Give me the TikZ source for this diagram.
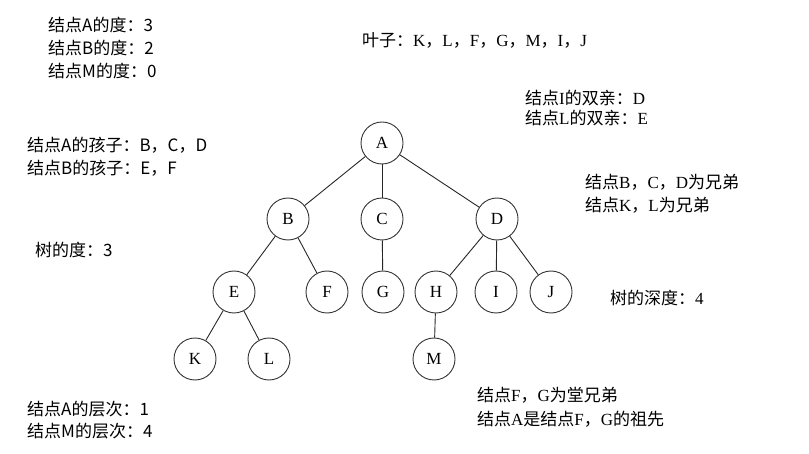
\documentclass[tikz,border=0pt]{standalone}
\usepackage{fontspec}
\setmainfont{Noto Sans CJK SC}
\newfontfamily\serifL{Liberation Serif}
\newcommand\tmr[1]{{\serifL #1}}
\begin{document}
\begin{tikzpicture}[x=1pt,y=-1pt,
  tn/.style={circle,draw=black!80,line width=0.9pt,minimum size=42pt,inner sep=0pt,font=\fontsize{17}{19}\selectfont\serifL},
  edge/.style={draw=black!85,line width=0.9pt},
  lbl/.style={anchor=base west,inner sep=0pt,font=\fontsize{17}{19}\selectfont}]
\useasboundingbox (0,0) rectangle (809,454);
% tree nodes
\node[tn] (A) at (382,143) {A};
\node[tn] (B) at (288,219) {B};
\node[tn] (C) at (382,219) {C};
\node[tn] (D) at (497,219) {D};
\node[tn] (E) at (234,292) {E};
\node[tn] (F) at (327,292) {F};
\node[tn] (G) at (383,292) {G};
\node[tn] (H) at (436,292) {H};
\node[tn] (I) at (496,292) {I};
\node[tn] (J) at (551,292) {J};
\node[tn] (K) at (195,359) {K};
\node[tn] (L) at (269,359) {L};
\node[tn] (M) at (434,359) {M};
% edges
\draw[edge] (A) -- (B);
\draw[edge] (A) -- (C);
\draw[edge] (A) -- (D);
\draw[edge] (B) -- (E);
\draw[edge] (B) -- (F);
\draw[edge] (C) -- (G);
\draw[edge] (D) -- (H);
\draw[edge] (D) -- (I);
\draw[edge] (D) -- (J);
\draw[edge] (E) -- (K);
\draw[edge] (E) -- (L);
\draw[edge] (H) -- (M);
% labels
\node[lbl] (t1) at (48,32) {结点A的度：3};
\node[lbl] (t2) at (48,55) {结点B的度：2};
\node[lbl] (t3) at (48,78) {结点M的度：0};
\node[lbl] (t4) at (362,47) {叶子：\tmr{K}，\tmr{L}，\tmr{F}，\tmr{G}，\tmr{M}，\tmr{I}，\tmr{J}};
\node[lbl] (t5) at (525,105) {结点\tmr{I}的双亲：\tmr{D}};
\node[lbl] (t6) at (525,125) {结点\tmr{L}的双亲：\tmr{E}};
\node[lbl] (t7) at (27,152) {结点A的孩子：B，C，D};
\node[lbl] (t8) at (27,175) {结点B的孩子：E，F};
\node[lbl] (t9) at (35,257) {树的度：3};
\node[lbl] (t10) at (585,189) {结点\tmr{B}，\tmr{C}，\tmr{D}为兄弟};
\node[lbl] (t11) at (585,212) {结点\tmr{K}，\tmr{L}为兄弟};
\node[lbl] (t12) at (610,305) {树的深度：\tmr{4}};
\node[lbl] (t13) at (27,415) {结点A的层次：1};
\node[lbl] (t14) at (27,437) {结点M的层次：4};
\node[lbl] (t15) at (477,402) {结点\tmr{F}，\tmr{G}为堂兄弟};
\node[lbl] (t16) at (477,425) {结点\tmr{A}是结点\tmr{F}，\tmr{G}的祖先};
\end{tikzpicture}
\end{document}
